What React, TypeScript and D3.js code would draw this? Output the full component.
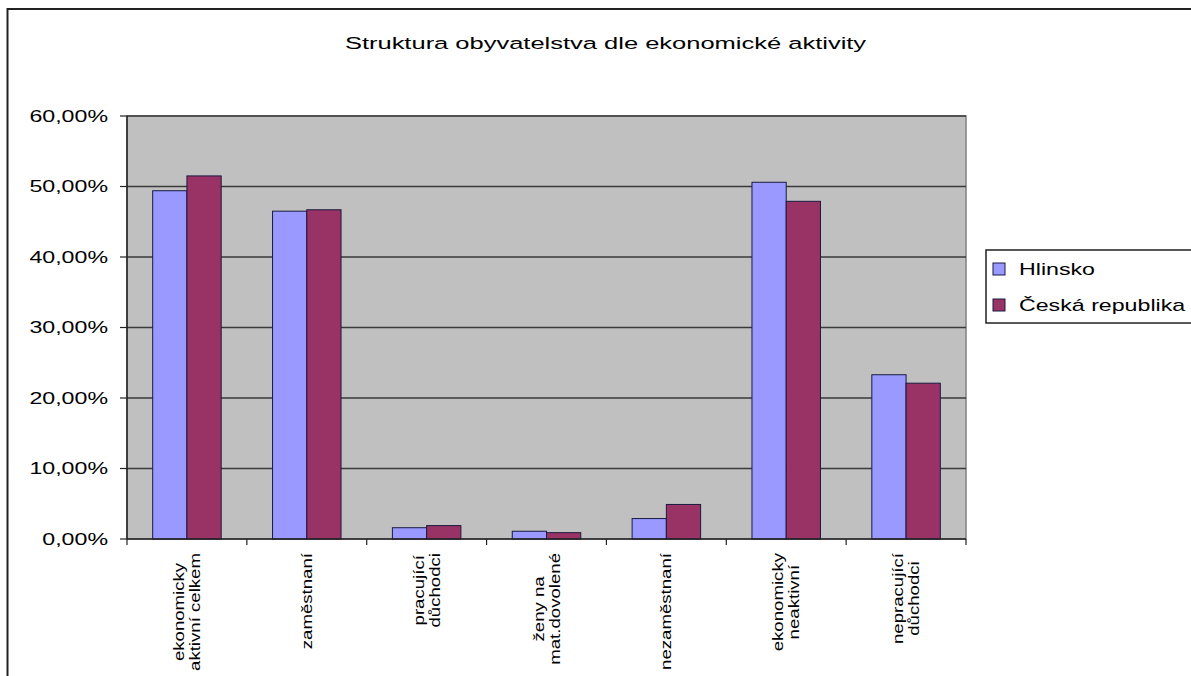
import React, { useEffect, useRef } from "react";
import * as d3 from "d3";

const title = "Struktura obyvatelstva dle ekonomické aktivity";
const categories = [
  "ekonomicky aktivní celkem",
  "zaměstnaní",
  "pracující důchodci",
  "ženy na mat.dovolené",
  "nezaměstnaní",
  "ekonomicky neaktivní",
  "nepracující důchodci",
];
const categoryLines = [
  ["ekonomicky", "aktivní celkem"],
  ["zaměstnaní"],
  ["pracující", "důchodci"],
  ["ženy na", "mat.dovolené"],
  ["nezaměstnaní"],
  ["ekonomicky", "neaktivní"],
  ["nepracující", "důchodci"],
];
const seriesNames = ["Hlinsko", "Česká republika"];
const hlinsko = [0.494, 0.465, 0.016, 0.011, 0.029, 0.506, 0.233];
const ceskaRepublika = [0.515, 0.467, 0.019, 0.009, 0.049, 0.479, 0.221];
const yTicks = [0, 0.1, 0.2, 0.3, 0.4, 0.5, 0.6];
const colors = ["#9999ff", "#993366"];

export default function App() {
  const ref = useRef<SVGSVGElement>(null);
  useEffect(() => {
    const svg = d3.select(ref.current);
    svg.selectAll("*").remove();
    const W = 1191, H = 676;
    const left = 127, right = 966, top = 116, bottom = 539;
    const font = "'Liberation Sans', Arial, sans-serif";

    // outer frame
    svg.append("rect").attr("x", 0).attr("y", 0).attr("width", W).attr("height", H).attr("fill", "#fff");
    svg.append("rect").attr("x", 7.5).attr("y", 9).attr("width", 1400).attr("height", 900)
      .attr("fill", "#fff").attr("stroke", "#222").attr("stroke-width", 2);

    // title
    svg.append("text").attr("transform", `translate(605.5,43) scale(1.5,1)`)
      .attr("text-anchor", "middle").attr("dominant-baseline", "central")
      .attr("font-family", font).attr("font-size", 17).attr("fill", "#000").text(title);

    const x0 = d3.scaleBand<string>().domain(categories).range([left, right]).padding(0);
    const x1 = d3.scaleBand<string>().domain(seriesNames).range([0, x0.bandwidth()]).paddingInner(0).paddingOuter(0.75);
    const y = d3.scaleLinear().domain([0, 0.6]).range([bottom, top]);

    // plot area
    svg.append("rect").attr("x", left).attr("y", top).attr("width", right - left).attr("height", bottom - top)
      .attr("fill", "#c0c0c0").attr("stroke", "#808080").attr("stroke-width", 1.5);

    // gridlines
    svg.append("g").selectAll("line").data(yTicks.filter(t => t > 0)).join("line")
      .attr("x1", left).attr("x2", right).attr("y1", d => y(d)).attr("y2", d => y(d))
      .attr("stroke", "#3a3a3a").attr("stroke-width", 1.5);

    // bars
    const data = [hlinsko, ceskaRepublika];
    categories.forEach((c, i) => {
      seriesNames.forEach((s, j) => {
        const v = data[j][i];
        svg.append("rect")
          .attr("x", (x0(c) as number) + (x1(s) as number))
          .attr("y", y(v))
          .attr("width", x1.bandwidth())
          .attr("height", y(0) - y(v))
          .attr("fill", colors[j])
          .attr("stroke", "#1a1a40").attr("stroke-width", 1);
      });
    });

    // axes
    svg.append("line").attr("x1", left).attr("x2", left).attr("y1", top).attr("y2", bottom)
      .attr("stroke", "#222").attr("stroke-width", 1.5);
    svg.append("line").attr("x1", left).attr("x2", right).attr("y1", bottom).attr("y2", bottom)
      .attr("stroke", "#222").attr("stroke-width", 1.5);

    // y ticks
    const fmt = (v: number) => (v * 100).toFixed(2).replace(".", ",") + "%";
    const yg = svg.append("g");
    yTicks.forEach(t => {
      yg.append("line").attr("x1", left - 7).attr("x2", left).attr("y1", y(t)).attr("y2", y(t))
        .attr("stroke", "#222").attr("stroke-width", 1.2);
      yg.append("text").attr("transform", `translate(108,${y(t)}) scale(1.45,1)`)
        .attr("text-anchor", "end").attr("dominant-baseline", "central")
        .attr("font-family", font).attr("font-size", 16).attr("fill", "#000").text(fmt(t));
    });

    // x ticks
    const bounds = categories.map(c => x0(c) as number).concat([right]);
    bounds.forEach(b => {
      svg.append("line").attr("x1", b).attr("x2", b).attr("y1", bottom).attr("y2", bottom + 6)
        .attr("stroke", "#222").attr("stroke-width", 1.2);
    });

    // x labels (rotated)
    const sx = 1.33;
    categories.forEach((c, i) => {
      const lines = categoryLines[i];
      const cx = (x0(c) as number) + x0.bandwidth() / 2;
      const g = svg.append("g");
      const texts = lines.map((l) =>
        g.append("text").attr("font-family", font).attr("font-size", 14).attr("fill", "#000")
          .attr("text-anchor", "middle").text(l)
      );
      const lens = texts.map(t => (t.node() as SVGTextElement).getComputedTextLength() * sx);
      const maxLen = Math.max(...lens);
      const cy = 553 + maxLen / 2;
      const n = lines.length;
      const lh = 16;
      texts.forEach((t, k) => {
        const off = (k - (n - 1) / 2) * lh;
        t.attr("transform", `translate(${cx + off + 5},${cy}) rotate(-90) scale(${sx},1)`);
      });
    });

    // legend
    svg.append("rect").attr("x", 986).attr("y", 250).attr("width", 300).attr("height", 73)
      .attr("fill", "#fff").attr("stroke", "#222").attr("stroke-width", 1.5);
    seriesNames.forEach((s, j) => {
      const cy = 269 + j * 36;
      svg.append("rect").attr("x", 993).attr("y", cy - 6).attr("width", 12).attr("height", 12)
        .attr("fill", colors[j]).attr("stroke", "#1a1a40").attr("stroke-width", 1);
      svg.append("text").attr("transform", `translate(1019,${cy}) scale(1.45,1)`)
        .attr("dominant-baseline", "central")
        .attr("font-family", font).attr("font-size", 16).attr("fill", "#000").text(s);
    });
  }, []);
  return (
    <svg ref={ref} width={1191} height={676}
      style={{ position: "absolute", left: 0, top: 0, display: "block" }} />
  );
}
